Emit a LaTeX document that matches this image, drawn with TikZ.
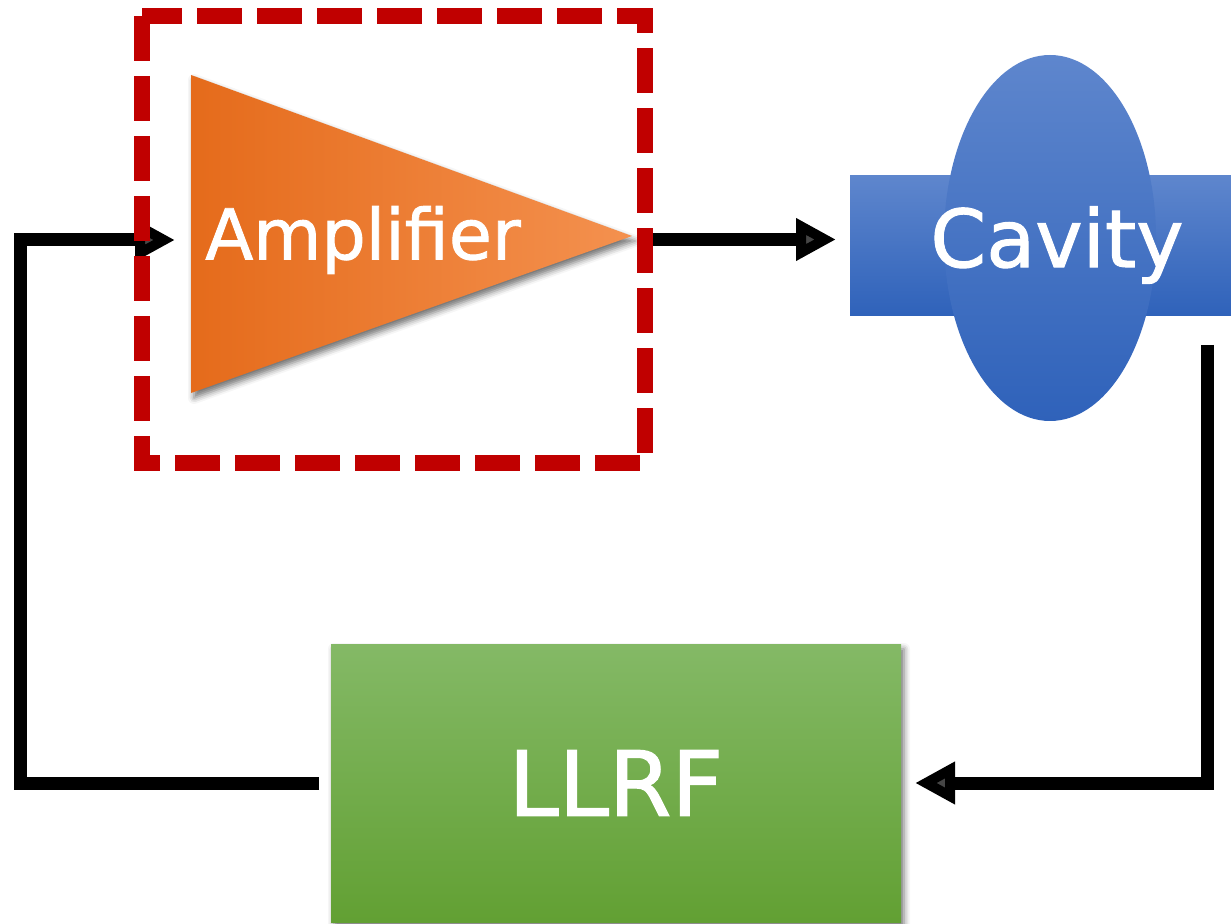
\documentclass[tikz,border=0pt]{standalone}
\usepackage{fontspec}
\setmainfont{DejaVu Sans}
\newfontfamily\lblfont[FakeBold=1.3]{DejaVu Sans}
\usetikzlibrary{positioning,arrows.meta,shapes.geometric,shadows.blur}

\definecolor{ampdark}{HTML}{E56B1B}
\definecolor{amplight}{HTML}{F4914F}
\definecolor{cavtop}{HTML}{5E86CD}
\definecolor{cavbot}{HTML}{2F62BA}
\definecolor{llrftop}{HTML}{84B966}
\definecolor{llrfbot}{HTML}{62A033}
\definecolor{framered}{HTML}{C00000}

\begin{document}
\begin{tikzpicture}[
  x=0.5pt, y=-0.5pt, >={Triangle[length=20pt,width=20pt]},
  wire/.style={line width=6.5pt, line join=miter},
  lbl/.style={text=white, inner sep=0pt, font=\lblfont\fontsize{#1}{#1}\selectfont},
  lbl/.default=35pt,
  soft/.style={blur shadow={shadow xshift=1.5pt, shadow yshift=-2.5pt, shadow blur radius=3pt, shadow opacity=55}},
  frameline/.style={draw=framered, line width=8pt, dash pattern=on 22.5pt off 7.5pt}]
  \useasboundingbox (0,0) rectangle (1231,924);

  % amplifier (triangle + text)
  \path[soft, left color=ampdark, right color=amplight]
    (191,75) -- (632,236) -- (191,393) -- cycle;
  \node[lbl] (amp) at (363,240) {Amplifier};
  \node[outer sep=0pt, minimum width=251.5pt, minimum height=223.5pt] (frame) at (393.5,239.5) {};

  % cavity: beam pipe with the cell on top
  \node[minimum width=190.5pt, minimum height=70pt, outer sep=0pt,
        top color=cavtop, bottom color=cavbot] (pipe) at (1040.5,246) {};
  \node[ellipse, minimum width=106pt, minimum height=183pt, inner sep=0pt,
        top color=cavtop, bottom color=cavbot] (cell) at (1050,238) {};
  \node[lbl=40pt] (cav) at (1057,245) {Cavity};

  % LLRF box
  \node[soft, minimum width=285pt, minimum height=139pt, outer sep=0pt,
        top color=llrftop, bottom color=llrfbot] (llrf) at (616,783) {};
  \node[lbl=45pt] (llrftxt) at (llrf) {LLRF};

  \coordinate (pickup) at (1207,345);
  \coordinate (corner) at (20,240);
  \coordinate (ampin) at (175,240);

  \draw[wire, ->, shorten >=7pt] ([xshift=4pt]frame.east) -- (pipe.west |- frame.east);
  \draw[wire, ->, shorten >=7pt] (pickup) |- (llrf.east);
  \draw[wire, ->] ([xshift=-6pt]llrf.west) -| (corner) -- (ampin);

  \draw[frameline] (frame.north west) rectangle (frame.south east);
\end{tikzpicture}
\end{document}
